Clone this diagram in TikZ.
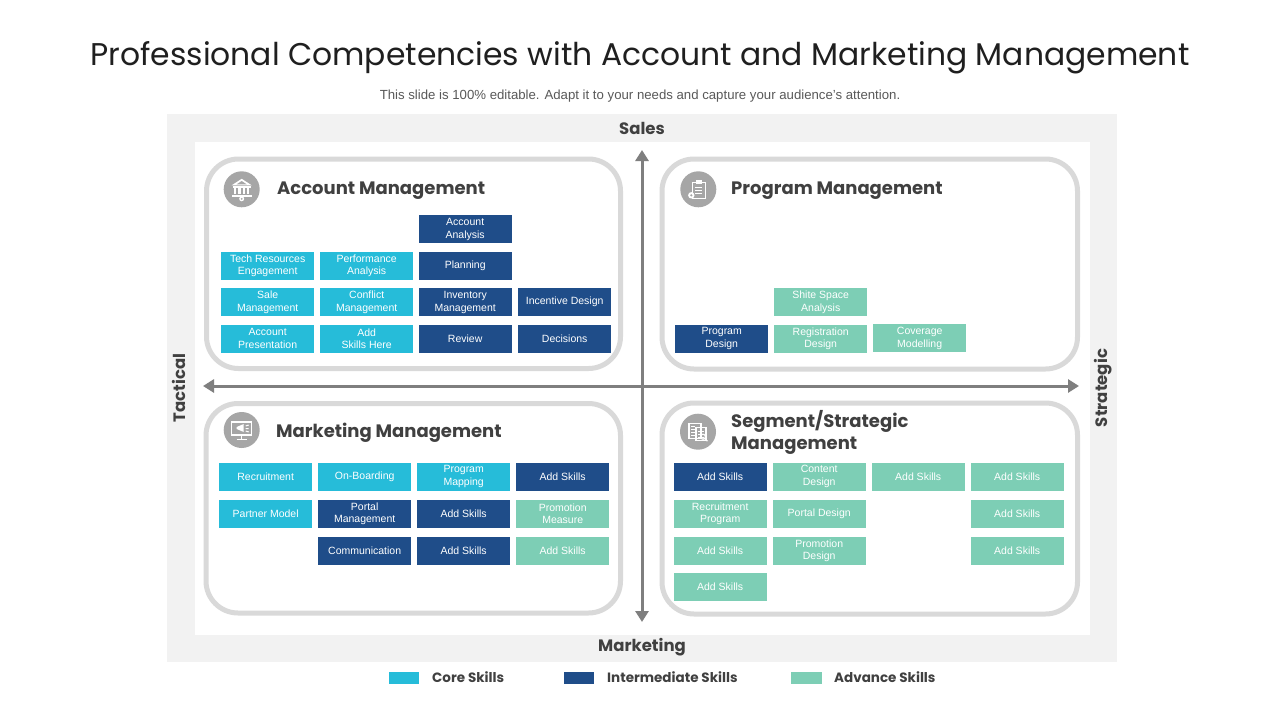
\documentclass[tikz,border=0pt]{standalone}
\usepackage{fontspec}
\setmainfont{Liberation Sans}
\newfontfamily\gothic{Poppins}
\usetikzlibrary{arrows.meta}
\definecolor{corec}{RGB}{38,188,217}
\definecolor{interc}{RGB}{31,77,137}
\definecolor{advc}{RGB}{125,206,181}
\definecolor{framegray}{RGB}{242,242,242}
\definecolor{ringgray}{RGB}{217,217,217}
\definecolor{axisgray}{RGB}{127,127,127}
\definecolor{icongray}{RGB}{166,166,166}
\definecolor{darktext}{RGB}{64,64,64}
\definecolor{subtext}{RGB}{89,89,89}
\tikzset{
  skill/.style={anchor=north west, minimum width=93pt, minimum height=28pt, inner sep=0pt,
    align=center, text=white, font=\fontsize{10.5}{12.6}\selectfont},
  cskill/.style={skill, fill=corec},
  iskill/.style={skill, fill=interc},
  askill/.style={skill, fill=advc},
  ring/.style={draw=ringgray, line width=5pt, rounded corners=32pt, fill=white},
  axisline/.style={draw=axisgray, line width=3pt,
    {Triangle[length=11pt,width=13pt]}-{Triangle[length=11pt,width=13pt]}},
  axislabel/.style={text=darktext, font=\gothic\bfseries\fontsize{16.5}{19}\selectfont, inner sep=0pt},
  head/.style={anchor=west, text=darktext, font=\gothic\bfseries\fontsize{18}{22}\selectfont, inner sep=0pt, align=left},
  iconbg/.style={fill=icongray},
  legtext/.style={anchor=west, text=darktext, font=\gothic\bfseries\fontsize{13.5}{16}\selectfont, inner sep=0pt},
}
\begin{document}
\begin{tikzpicture}[x=1pt,y=-1pt]
\useasboundingbox (0,0) rectangle (1280,720);
\fill[white] (0,0) rectangle (1280,720);

% title
\node[font=\gothic\fontsize{31.4}{36}\selectfont, text=black!88, inner sep=0pt] (title) at (640,58)
  {Professional Competencies with Account and Marketing Management};
\node[font=\fontsize{13.2}{15}\selectfont, text=subtext, inner sep=0pt] (subtitle) at (640,96)
  {This slide is 100\% editable. Adapt it to your needs and capture your audience’s attention.};

% frame
\fill[framegray] (167,114) rectangle (1117,662);
\fill[white] (195,142) rectangle (1090,635);

% quadrant rings
\draw[ring] (206.5,159) rectangle (620.5,368.5);
\draw[ring] (662,159) rectangle (1077.5,369);
\draw[ring] (206,403.5) rectangle (620.5,613);
\draw[ring] (662,403) rectangle (1077.5,614);

% axes
\coordinate (vtop) at (642,150);
\coordinate (vbot) at (642,622);
\coordinate (hleft) at (203,386);
\coordinate (hright) at (1079,386);
\draw[axisline] (vtop) -- (vbot);
\draw[axisline] (hleft) -- (hright);

\node[axislabel] (sales) at (642,128) {Sales};
\node[axislabel] (marketing) at (642,647) {Marketing};
\node[axislabel, rotate=90] (tactical) at (179,388) {Tactical};
\node[axislabel, rotate=90] (strategic) at (1103,388) {Strategic};

% icons
\begin{scope}[shift={(241.7,189.3)}]
  \fill[iconbg] (0,0) circle (18);
  \fill[white] (-10,-4) -- (0,-10.5) -- (10,-4) -- cycle;
  \fill[icongray] (-5,-5) -- (0,-8.3) -- (5,-5) -- cycle;
  \fill[white] (-9,-3) rectangle (9,-1.5);
  \foreach \cx in {-6.5,-2.2,2.2,6.5} {\fill[white] (\cx-1.1,-1) rectangle (\cx+1.1,5);}
  \fill[white] (-10,5.5) rectangle (10,7.5);
  \fill[white] (0,9.5) circle (2.5);
  \fill[icongray] (0,9.5) circle (1);
\end{scope}
\begin{scope}[shift={(698.3,189.3)}]
  \fill[iconbg] (0,0) circle (18);
  \draw[white, line width=1.4pt] (-6,-7) rectangle (7,9);
  \fill[white] (-2.5,-9.5) rectangle (3.5,-5.5);
  \foreach \ly in {-2,1,4} {\draw[white, line width=1pt] (-3,\ly) -- (4,\ly);}
  \fill[white] (-7,6) circle (3.2);
  \fill[icongray] (-7,6) circle (1.2);
\end{scope}
\begin{scope}[shift={(241.7,430)}]
  \fill[iconbg] (0,0) circle (18);
  \draw[white, line width=1.4pt] (-10,-8) rectangle (10,5);
  \draw[white, line width=1.4pt] (0,5) -- (0,9) (-5,9.5) -- (5,9.5);
  \fill[white] (-5,-3) -- (2,-6) -- (2,2) -- (-5,-1) -- cycle;
  \draw[white, line width=1pt] (4,-4) -- (7,-5) (4,-1.5) -- (7,-1.5) (4,1) -- (7,2);
\end{scope}
\begin{scope}[shift={(698,431.7)}]
  \fill[iconbg] (0,0) circle (18);
  \draw[white, line width=1.2pt] (-9,-8) rectangle (3,7);
  \draw[white, line width=1.2pt] (-2,-4) rectangle (8,9);
  \foreach \ly in {-5,-2,1,4} {\draw[white, line width=0.8pt] (-7,\ly) -- (-3,\ly);}
  \draw[white, line width=0.8pt] (0,0) -- (6,0) (0,3) -- (6,3) (0,6) -- (6,6);
  \draw[white, line width=1.2pt] (5,5) circle (2.5) (7,7) -- (9.5,9.5);
\end{scope}

% headings
\node[head] (hAM) at (277,191) {Account Management};
\node[head] (hPM) at (731,191) {Program Management};
\node[head] (hMM) at (276,433) {Marketing Management};
\node[head, font=\gothic\bfseries\fontsize{18}{22.5}\selectfont] (hSM) at (731,432.5) {Segment/Strategic\\Management};

% Account Management skills
\node[iskill] (am13) at (418.5,215) {Account\\Analysis};
\node[cskill] (am21) at (221,251.5) {Tech Resources\\Engagement};
\node[cskill] (am22) at (320,251.5) {Performance\\Analysis};
\node[iskill] (am23) at (418.5,251.5) {Planning};
\node[cskill] (am31) at (221,288) {Sale\\Management};
\node[cskill] (am32) at (320,288) {Conflict\\Management};
\node[iskill] (am33) at (418.5,288) {Inventory\\Management};
\node[iskill] (am34) at (518,288) {Incentive Design};
\node[cskill] (am41) at (221,324.5) {Account\\Presentation};
\node[cskill] (am42) at (320,324.5) {Add\\Skills Here};
\node[iskill] (am43) at (418.5,324.5) {Review};
\node[iskill] (am44) at (518,324.5) {Decisions};

% Program Management skills
\node[askill] (pm1) at (774,288) {Shite Space\\Analysis};
\node[iskill] (pm2) at (675,324.5) {Program\\Design};
\node[askill] (pm3) at (774,324.5) {Registration\\Design};
\node[askill] (pm4) at (873,324) {Coverage\\Modelling};

% Marketing Management skills
\node[cskill] (mm11) at (219,462.5) {Recruitment};
\node[cskill] (mm12) at (318,462.5) {On-Boarding};
\node[cskill] (mm13) at (417,462.5) {Program\\Mapping};
\node[iskill] (mm14) at (516,462.5) {Add Skills};
\node[cskill] (mm21) at (219,499.5) {Partner Model};
\node[iskill] (mm22) at (318,499.5) {Portal\\Management};
\node[iskill] (mm23) at (417,499.5) {Add Skills};
\node[askill] (mm24) at (516,499.5) {Promotion\\Measure};
\node[iskill] (mm32) at (318,536.5) {Communication};
\node[iskill] (mm33) at (417,536.5) {Add Skills};
\node[askill] (mm34) at (516,536.5) {Add Skills};

% Segment/Strategic Management skills
\node[iskill] (sm11) at (673.5,462.5) {Add Skills};
\node[askill] (sm12) at (772.5,462.5) {Content\\Design};
\node[askill] (sm13) at (871.5,462.5) {Add Skills};
\node[askill] (sm14) at (970.5,462.5) {Add Skills};
\node[askill] (sm21) at (673.5,499.5) {Recruitment\\Program};
\node[askill] (sm22) at (772.5,499.5) {Portal Design};
\node[askill] (sm24) at (970.5,499.5) {Add Skills};
\node[askill] (sm31) at (673.5,536.5) {Add Skills};
\node[askill] (sm32) at (772.5,536.5) {Promotion\\Design};
\node[askill] (sm34) at (970.5,536.5) {Add Skills};
\node[askill] (sm41) at (673.5,572.5) {Add Skills};

% legend
\fill[corec] (389,671.5) rectangle (419,684);
\node[legtext] (lcore) at (432,677.5) {Core Skills};
\fill[interc] (564,671.5) rectangle (594,684);
\node[legtext] (linter) at (607,677.5) {Intermediate Skills};
\fill[advc] (791,671.5) rectangle (822,684);
\node[legtext] (ladv) at (834,677.5) {Advance Skills};
\end{tikzpicture}
\end{document}
